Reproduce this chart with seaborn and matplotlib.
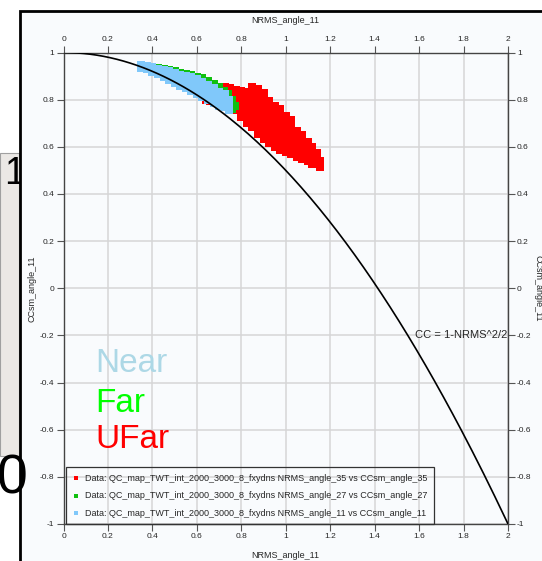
import numpy as np
import pandas as pd
import matplotlib
matplotlib.use("Agg")
import matplotlib.pyplot as plt
import seaborn as sns
from matplotlib.patches import Rectangle
from matplotlib.ticker import FormatStrFormatter

# Values: each entry is (NRMS, [CCsm values in that NRMS column])
ufar_cols = [
    (0.64, [0.800]),
    (0.66, [0.795, 0.812]),
    (0.70, [0.790, 0.812, 0.834, 0.850]),
    (0.725, [0.775, 0.797, 0.819, 0.841, 0.852]),
    (0.75, [0.770, 0.792, 0.814, 0.836, 0.848]),
    (0.775, [0.758, 0.780, 0.802, 0.824, 0.842]),
    (0.80, [0.725, 0.747, 0.769, 0.791, 0.813, 0.835]),
    (0.825, [0.700, 0.722, 0.744, 0.766, 0.788, 0.810, 0.832]),
    (0.85, [0.685, 0.707, 0.729, 0.751, 0.773, 0.795, 0.817, 0.840, 0.852]),
    (0.875, [0.655, 0.677, 0.699, 0.721, 0.743, 0.765, 0.787, 0.809, 0.831, 0.845]),
    (0.90, [0.635, 0.657, 0.679, 0.701, 0.723, 0.745, 0.767, 0.789, 0.811, 0.828]),
    (0.925, [0.615, 0.637, 0.659, 0.681, 0.703, 0.725, 0.747, 0.769, 0.795]),
    (0.95, [0.600, 0.622, 0.644, 0.666, 0.688, 0.710, 0.732, 0.754, 0.775]),
    (0.975, [0.588, 0.610, 0.632, 0.654, 0.676, 0.698, 0.720, 0.745, 0.762]),
    (1.00, [0.578, 0.600, 0.622, 0.644, 0.666, 0.688, 0.710, 0.730]),
    (1.025, [0.570, 0.592, 0.614, 0.636, 0.658, 0.680, 0.702, 0.715]),
    (1.05, [0.558, 0.580, 0.602, 0.624, 0.646, 0.668]),
    (1.075, [0.548, 0.570, 0.592, 0.614, 0.636, 0.652]),
    (1.10, [0.540, 0.562, 0.584, 0.606, 0.622]),
    (1.12, [0.525, 0.555, 0.578, 0.598]),
    (1.14, [0.530, 0.555, 0.575]),
    (1.155, [0.515, 0.540]),
]

far_cols = [
    (0.40, [0.938]),
    (0.425, [0.934]),
    (0.45, [0.930]),
    (0.475, [0.926]),
    (0.50, [0.921]),
    (0.525, [0.914]),
    (0.55, [0.908]),
    (0.575, [0.903]),
    (0.60, [0.897]),
    (0.625, [0.890, 0.870]),
    (0.65, [0.880, 0.860]),
    (0.675, [0.866, 0.846]),
    (0.70, [0.852, 0.832]),
    (0.72, [0.838, 0.818]),
    (0.74, [0.826, 0.806, 0.786]),
    (0.76, [0.800, 0.780, 0.762]),
    (0.77, [0.775]),
]

near_cols = [
    (0.35, [0.935, 0.945]),
    (0.375, [0.928, 0.942]),
    (0.40, [0.917, 0.937]),
    (0.425, [0.907, 0.929]),
    (0.45, [0.896, 0.918, 0.927]),
    (0.475, [0.884, 0.905, 0.922]),
    (0.50, [0.872, 0.894, 0.915]),
    (0.525, [0.860, 0.882, 0.906]),
    (0.55, [0.848, 0.870, 0.892, 0.902]),
    (0.575, [0.836, 0.858, 0.880, 0.896]),
    (0.60, [0.823, 0.845, 0.867, 0.887]),
    (0.625, [0.810, 0.832, 0.854, 0.876]),
    (0.65, [0.797, 0.819, 0.841, 0.862]),
    (0.675, [0.785, 0.806, 0.828, 0.848]),
    (0.70, [0.775, 0.796, 0.816, 0.834]),
    (0.725, [0.768, 0.788, 0.808, 0.825]),
    (0.745, [0.758, 0.778, 0.800]),
]

series_labels = [
    "Data: QC_map_TWT_int_2000_3000_8_fxydns NRMS_angle_35 vs CCsm_angle_35",
    "Data: QC_map_TWT_int_2000_3000_8_fxydns NRMS_angle_27 vs CCsm_angle_27",
    "Data: QC_map_TWT_int_2000_3000_8_fxydns NRMS_angle_11 vs CCsm_angle_11",
]
series_colors = ["#ff0000", "#10c010", "#80c8fa"]
tick_values = [0, 0.2, 0.4, 0.6, 0.8, 1, 1.2, 1.4, 1.6, 1.8, 2]
ytick_values = [-1, -0.8, -0.6, -0.4, -0.2, 0, 0.2, 0.4, 0.6, 0.8, 1]

# reference curve from the formula printed on the chart
curve_nrms = np.linspace(0, 2, 201)
curve_cc = 1 - curve_nrms ** 2 / 2


def to_frame(cols):
    rows = [(x, y) for x, ys in cols for y in ys]
    return pd.DataFrame(rows, columns=["NRMS", "CC"])


def plot_qc():
    sns.set_style("white")
    plt.rcParams['font.family'] = ['Liberation Sans', 'DejaVu Sans']
    plt.rcParams['axes.unicode_minus'] = False

    W, H = 542, 561
    fig = plt.figure(figsize=(W / 100, H / 100), dpi=100)
    fig.patch.set_facecolor("white")

    bg = "#f9fbfd"
    # screenshot surroundings
    fig.add_artist(Rectangle((0, 1 - 456 / H), 19 / W, 303 / H, transform=fig.transFigure,
                             facecolor="#ebe8e5", edgecolor="#a0a0a0", lw=0.8, zorder=0.3))
    fig.text(4 / W, 1 - 184 / H, "1", fontsize=27, color="black", ha="left",
             va="baseline", zorder=0.5)
    fig.add_artist(Rectangle((20 / W, -0.05), 1.0, 1.05 - 10.5 / H, transform=fig.transFigure,
                             facecolor=bg, edgecolor="black", lw=2, zorder=0.8))
    fig.text(-3 / W, 1 - 493 / H, "0", fontsize=40, color="black", ha="left",
             va="baseline", zorder=3)
    fig.text(273 / W, 1 + 4 / H, "Mid", fontsize=18, color="#ffc000", ha="left",
             va="baseline", zorder=3)
    fig.text(345 / W, 1 + 4 / H, "Far", fontsize=18, color="#00dd00", ha="left",
             va="baseline", zorder=3)

    ax = fig.add_axes([63.5 / W, 1 - 524 / H, 444.5 / W, 471.5 / H])
    ax.set_zorder(5)
    ax.set_facecolor(bg)

    for cols, lab, col in zip([ufar_cols, far_cols, near_cols], series_labels, series_colors):
        sns.scatterplot(data=to_frame(cols), x="NRMS", y="CC", color=col, marker="s",
                        s=26, linewidth=0, label=lab, ax=ax, zorder=2)

    sns.lineplot(x=curve_nrms, y=curve_cc, color="black", lw=1.2, sort=False,
                 estimator=None, ax=ax, zorder=3)

    ax.set_xlim(0, 2)
    ax.set_ylim(-1, 1)
    ax.set_xticks(tick_values)
    ax.set_yticks(ytick_values)
    ax.xaxis.set_major_formatter(FormatStrFormatter('%g'))
    ax.yaxis.set_major_formatter(FormatStrFormatter('%g'))
    ax.grid(True, color="#d6d6d6", lw=1.1)
    ax.set_axisbelow(True)
    ax.tick_params(which="both", direction="out", length=5, width=0.8, color="#555555",
                   labelsize=6, pad=1.5, top=True, right=True, labeltop=True,
                   labelright=True, bottom=True, left=True)
    for sp in ax.spines.values():
        sp.set_color("#444444")
        sp.set_linewidth(1.0)
    ax.set_xlabel("")
    ax.set_ylabel("")

    lab_kw = dict(transform=ax.transAxes, fontsize=6.5, ha="center", va="center")
    ax.text(0.5, -0.066, "NRMS_angle_11", **lab_kw)
    ax.text(0.5, 1.067, "NRMS_angle_11", **lab_kw)
    ax.text(-0.071, 0.5, "CCsm_angle_11", rotation=90, **lab_kw)
    ax.text(1.0675, 0.5, "CCsm_angle_11", rotation=-90, **lab_kw)

    ax.text(1.995, -0.2, "CC = 1-NRMS^2/2", fontsize=8, ha="right", va="center", zorder=4)

    ax.text(0.142, -0.355, "Near", fontsize=24, color="#add8e6", va="baseline")
    ax.text(0.142, -0.525, "Far", fontsize=24, color="#00ff00", va="baseline")
    ax.text(0.142, -0.678, "UFar", fontsize=24, color="#ff0000", va="baseline")

    leg = ax.legend(loc="lower left", bbox_to_anchor=(0.006, 0.0), borderaxespad=0,
                    fontsize=6.5, frameon=True, fancybox=False, edgecolor="#333333",
                    facecolor="none", framealpha=1, labelspacing=0.95, handlelength=0.8,
                    handletextpad=0.6, borderpad=0.7, markerscale=0.7)
    leg.get_frame().set_linewidth(0.9)

    fig.savefig("out.png", dpi=100)
    plt.close(fig)


if __name__ == "__main__":
    plot_qc()
